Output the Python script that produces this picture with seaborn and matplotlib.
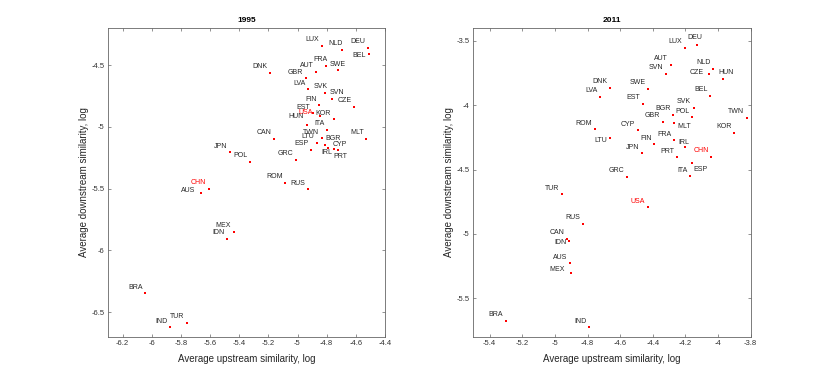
import matplotlib
matplotlib.use("Agg")
import matplotlib.pyplot as plt
import pandas as pd
import seaborn as sns

# 1995 data (log average upstream / downstream similarity)
countries_1995 = ["LUX", "NLD", "DEU", "BEL", "FRA", "AUT", "SWE", "DNK", "GBR", "LVA",
                  "SVK", "SVN", "FIN", "CZE", "EST", "USA", "KOR", "HUN", "ITA", "TWN",
                  "LTU", "BGR", "CYP", "IRL", "PRT", "MLT", "ESP", "GRC", "CAN", "JPN",
                  "POL", "ROM", "RUS", "CHN", "AUS", "MEX", "IDN", "BRA", "TUR", "IND"]
up_1995 = [-4.834, -4.695, -4.515, -4.510, -4.802, -4.871, -4.723, -5.188, -4.942, -4.930,
           -4.814, -4.766, -4.853, -4.613, -4.894, -4.849, -4.752, -4.935, -4.800, -4.832,
           -4.868, -4.809, -4.789, -4.748, -4.723, -4.528, -4.908, -5.010, -5.163, -5.464,
           -5.327, -5.083, -4.930, -5.610, -5.663, -5.439, -5.485, -6.047, -5.759, -5.877]
down_1995 = [-4.343, -4.376, -4.360, -4.408, -4.511, -4.554, -4.538, -4.562, -4.605, -4.697,
             -4.722, -4.776, -4.825, -4.838, -4.890, -4.910, -4.937, -4.983, -5.025, -5.090,
             -5.128, -5.144, -5.168, -5.182, -5.188, -5.095, -5.187, -5.265, -5.098, -5.204,
             -5.282, -5.452, -5.504, -5.501, -5.531, -5.847, -5.904, -6.345, -6.584, -6.621]

# 2011 data
countries_2011 = ["LUX", "DEU", "AUT", "SVN", "NLD", "CZE", "HUN", "DNK", "LVA", "SWE",
                  "BEL", "EST", "SVK", "BGR", "POL", "GBR", "TWN", "MLT", "KOR", "ROM",
                  "CYP", "LTU", "FIN", "FRA", "IRL", "JPN", "PRT", "CHN", "ESP", "ITA",
                  "GRC", "TUR", "USA", "RUS", "CAN", "IDN", "AUS", "MEX", "BRA", "IND"]
up_2011 = [-4.205, -4.128, -4.291, -4.322, -4.031, -4.058, -3.970, -4.665, -4.722, -4.429,
           -4.050, -4.460, -4.150, -4.277, -4.162, -4.339, -3.824, -4.269, -3.900, -4.755,
           -4.493, -4.661, -4.390, -4.271, -4.203, -4.468, -4.253, -4.043, -4.162, -4.174,
           -4.560, -4.958, -4.431, -4.827, -4.925, -4.913, -4.907, -4.899, -5.301, -4.792]
down_2011 = [-3.554, -3.529, -3.684, -3.757, -3.718, -3.757, -3.795, -3.865, -3.933, -3.871,
             -3.925, -3.990, -4.019, -4.075, -4.093, -4.130, -4.096, -4.138, -4.213, -4.187,
             -4.194, -4.257, -4.301, -4.270, -4.327, -4.373, -4.404, -4.400, -4.451, -4.552,
             -4.555, -4.692, -4.793, -4.921, -5.037, -5.055, -5.229, -5.302, -5.675, -5.726]

highlight = ["USA", "CHN"]

# label placement: (ha, dx, dy) in pixels, default is upper left of the dot
default_pos = ("right", -2.5, 6)
label_pos_1995 = {
    "SVN": ("left", -2, 7), "BGR": ("left", 0, 6), "CYP": ("left", 4, 3),
    "IRL": ("right", -2, -3), "PRT": ("left", -4.5, -6), "USA": ("right", -7, 3.5),
    "BEL": ("right", -2.6, -1.3), "NLD": ("right", 1, 6), "FRA": ("right", 1, 6.5),
    "SWE": ("center", 0, 5), "SVK": ("right", 3.3, 6), "AUS": ("right", -5.3, 2),
    "HUN": ("right", -3, 8),
}
label_pos_2011 = {
    "DEU": ("center", -2, 7.4), "CZE": ("right", -4.4, 1.3), "HUN": ("center", 3, 6.3),
    "MLT": ("left", 3.4, -3.7), "LTU": ("right", -3, -2.4), "IRL": ("center", -0.7, 5),
    "ESP": ("left", 2, -5.7), "IDN": ("right", -2.7, -1.7), "MEX": ("right", -6.3, 3.4),
}

sns.set_style("ticks")
plt.rcParams["font.family"] = ["Liberation Sans", "DejaVu Sans"]

axis_grey = "#666666"
text_grey = "#262626"


def draw_panel(ax, names, up, down, title, xlim, ylim, xticks, yticks, label_pos):
    df = pd.DataFrame({"country": names, "up": up, "down": down})
    sns.scatterplot(data=df, x="up", y="down", ax=ax, color="red", s=3,
                    linewidth=0, marker="s", legend=False)
    for _, row in df.iterrows():
        ha, dx, dy = label_pos.get(row["country"], default_pos)
        col = "red" if row["country"] in highlight else text_grey
        ax.annotate(row["country"], (row["up"], row["down"]), xytext=(dx, dy),
                    textcoords="offset pixels", ha=ha, va="center",
                    fontsize=5, color=col)
    ax.set_xlim(xlim)
    ax.set_ylim(ylim)
    ax.set_xticks(xticks)
    ax.set_yticks(yticks)
    ax.set_xticklabels([f"{t:g}" for t in xticks])
    ax.set_yticklabels([f"{t:g}" for t in yticks])
    ax.tick_params(direction="in", length=2.2, width=0.5, top=True, right=True,
                   labelsize=5.5, colors=axis_grey, labelcolor="#333333", pad=2.5)
    for sp in ax.spines.values():
        sp.set_visible(True)
        sp.set_color(axis_grey)
        sp.set_linewidth(0.6)
    ax.set_title(title, fontsize=6, fontweight="bold", color="black", pad=4)
    ax.set_xlabel("Average upstream similarity, log", fontsize=7, color=text_grey, labelpad=5)
    ax.set_ylabel("Average downstream similarity, log", fontsize=7, color=text_grey, labelpad=2)


fig = plt.figure(figsize=(8.3, 3.79), dpi=100)
ax1 = fig.add_axes([108 / 830, 1 - 337 / 379, 277 / 830, 309 / 379])
ax2 = fig.add_axes([473.3 / 830, 1 - 337 / 379, 277.4 / 830, 309 / 379])

draw_panel(ax1, countries_1995, up_1995, down_1995, "1995",
           (-6.3, -4.4), (-6.7, -4.2),
           [-6.2, -6, -5.8, -5.6, -5.4, -5.2, -5, -4.8, -4.6, -4.4],
           [-6.5, -6, -5.5, -5, -4.5], label_pos_1995)
draw_panel(ax2, countries_2011, up_2011, down_2011, "2011",
           (-5.5, -3.8), (-5.8, -3.4),
           [-5.4, -5.2, -5, -4.8, -4.6, -4.4, -4.2, -4, -3.8],
           [-5.5, -5, -4.5, -4, -3.5], label_pos_2011)

fig.savefig("out.png", dpi=100)
